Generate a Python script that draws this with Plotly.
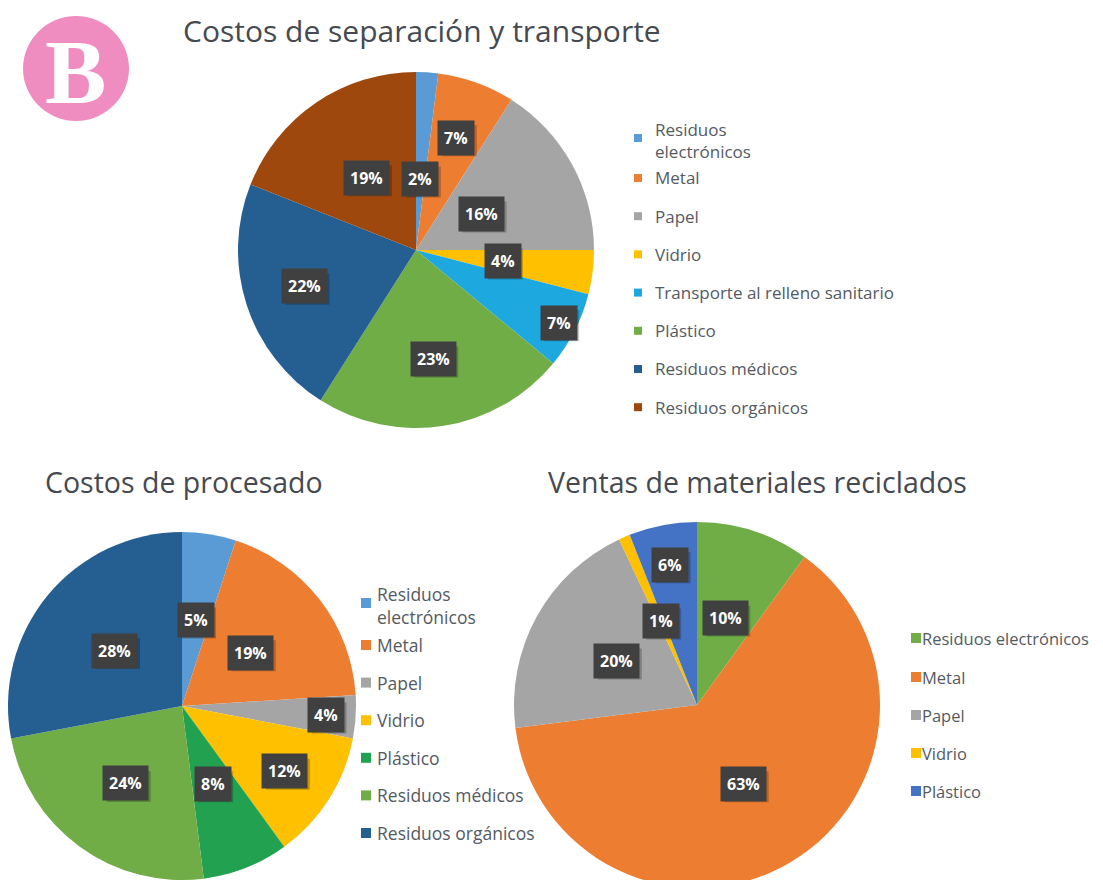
import math
import plotly.graph_objects as go

W, H = 1103, 880

# ---------------- data ----------------
titles = ["Costos de separación y transporte",
          "Costos de procesado",
          "Ventas de materiales reciclados"]

top_labels = ["Residuos electrónicos", "Metal", "Papel", "Vidrio",
              "Transporte al relleno sanitario", "Plástico",
              "Residuos médicos", "Residuos orgánicos"]
top_values = [2, 7, 16, 4, 7, 23, 22, 19]

proc_labels = ["Residuos electrónicos", "Metal", "Papel", "Vidrio",
               "Plástico", "Residuos médicos", "Residuos orgánicos"]
proc_values = [5, 19, 4, 12, 8, 24, 28]

sales_labels = ["Residuos electrónicos", "Metal", "Papel", "Vidrio", "Plástico"]
sales_values = [10, 63, 20, 1, 6]

# ---------------- styles ----------------
top_colors = ["#5B9BD5", "#ED7D31", "#A5A5A5", "#FFC000", "#1EA8E0",
              "#70AD47", "#255E91", "#9E480E"]
proc_colors = ["#5B9BD5", "#ED7D31", "#A5A5A5", "#FFC000", "#22A150",
               "#70AD47", "#255E91"]
sales_colors = ["#70AD47", "#ED7D31", "#A5A5A5", "#FFC000", "#4472C4"]

# radial position of the value boxes (fraction of radius), per slice
top_label_r = [0.40, 0.67, 0.42, 0.49, 0.90, 0.62, 0.66, 0.49]
proc_label_r = [0.50, 0.50, 0.83, 0.70, 0.48, 0.55, 0.50]
sales_label_r = [0.50, 0.50, 0.50, 0.50, 0.78]

FONT = "Open Sans, Noto Sans, sans-serif"
TITLE_COLOR = "#464a50"
LEG_COLOR = "#555a62"
BOX_COLOR = "#404040"

charts = [
    dict(title=titles[0], labels=top_labels, values=top_values, colors=top_colors,
         label_r=top_label_r, cx=408, cy=242, r=178,
         title_x=173, title_y=22, title_size=30,
         sq_x=626, txt_x=645, sq=8, leg_font=17,
         wrap_first=True, first_y=132, next_y=170, step=38.2),
    dict(title=titles[1], labels=proc_labels, values=proc_values, colors=proc_colors,
         label_r=proc_label_r, cx=174, cy=698, r=174,
         title_x=35, title_y=474, title_size=28.5,
         sq_x=353, txt_x=367, sq=10, leg_font=17.5,
         wrap_first=True, first_y=597, next_y=637, step=37.6),
    dict(title=titles[2], labels=sales_labels, values=sales_values, colors=sales_colors,
         label_r=sales_label_r, cx=689, cy=697, r=183,
         title_x=538, title_y=474, title_size=28.5,
         sq_x=903, txt_x=912, sq=10, leg_font=16.5,
         wrap_first=False, first_y=630, next_y=669, step=38.0),
]


def px_x(x):
    return x / W


def px_y(y):
    return 1 - y / H


fig = go.Figure()
annotations = []
shapes = []

for c in charts:
    cx, cy, r = c["cx"], c["cy"], c["r"]
    fig.add_trace(go.Pie(
        labels=c["labels"], values=c["values"],
        marker=dict(colors=c["colors"], line=dict(width=0)),
        sort=False, direction="clockwise", rotation=0,
        textinfo="none", showlegend=False,
        domain=dict(x=[max(0, px_x(cx - r)), min(1, px_x(cx + r))],
                    y=[max(0, px_y(cy + r)), min(1, px_y(cy - r))]),
        hovertemplate="%{label}: %{percent}<extra></extra>",
    ))

    # value boxes (with a soft shadow drawn as a shape)
    total = sum(c["values"])
    cum = 0
    for v, f in zip(c["values"], c["label_r"]):
        theta = 2 * math.pi * (cum + v / 2) / total
        cum += v
        lx = cx + f * r * math.sin(theta)
        ly = cy - f * r * math.cos(theta)
        pct = f"{round(v / total * 100)}%"
        bw = 9.3 * (len(pct) - 1) + 13.5 + 12
        bh = 31
        shapes.append(dict(type="rect", xref="paper", yref="paper", layer="above",
                           x0=px_x(lx - bw / 2 + 3), x1=px_x(lx + bw / 2 + 3),
                           y0=px_y(ly + bh / 2 + 3), y1=px_y(ly - bh / 2 + 3),
                           fillcolor="rgba(0,0,0,0.22)", line=dict(width=0)))
        annotations.append(dict(
            x=px_x(lx), y=px_y(ly), xref="paper", yref="paper",
            text=f"<b>{pct}</b>", showarrow=False,
            font=dict(family=FONT, size=16, color="white"),
            bgcolor=BOX_COLOR, borderpad=6, xanchor="center", yanchor="middle"))

    # title
    annotations.append(dict(
        x=px_x(c["title_x"]), y=px_y(c["title_y"]), xref="paper", yref="paper",
        text=c["title"], showarrow=False, xanchor="left", yanchor="middle",
        font=dict(family=FONT, size=c["title_size"], color=TITLE_COLOR)))

    # legend
    for i, (lab, col) in enumerate(zip(c["labels"], c["colors"])):
        if i == 0:
            yc = c["first_y"]
        else:
            yc = c["next_y"] + (i - 1) * c["step"]
        text = lab
        wrapped = i == 0 and c["wrap_first"]
        if wrapped:
            text = lab.replace(" ", "<br>", 1)
        s = c["sq"]
        sq_y = yc - 2 if wrapped else yc
        shapes.append(dict(type="rect", xref="paper", yref="paper",
                           x0=px_x(c["sq_x"]), x1=px_x(c["sq_x"] + s),
                           y0=px_y(sq_y + s / 2), y1=px_y(sq_y - s / 2),
                           fillcolor=col, line=dict(width=0)))
        annotations.append(dict(
            x=px_x(c["txt_x"]), y=px_y(yc), xref="paper", yref="paper",
            text=text, showarrow=False, xanchor="left", yanchor="middle",
            align="left",
            font=dict(family=FONT, size=c["leg_font"], color=LEG_COLOR)))

# "B" badge
shapes.append(dict(type="circle", xref="paper", yref="paper",
                   x0=px_x(15), x1=px_x(121), y0=px_y(113), y1=px_y(8),
                   fillcolor="#F08DC0", line=dict(width=0)))
annotations.append(dict(
    x=px_x(67), y=px_y(64), xref="paper", yref="paper",
    text="<b>B</b>", showarrow=False, xanchor="center", yanchor="middle",
    font=dict(family="Liberation Serif, DejaVu Serif, serif", size=92, color="white")))

fig.update_layout(
    width=W, height=H,
    margin=dict(l=0, r=0, t=0, b=0),
    paper_bgcolor="white", plot_bgcolor="white",
    annotations=annotations, shapes=shapes,
    showlegend=False,
)

fig.write_html("out.html")
